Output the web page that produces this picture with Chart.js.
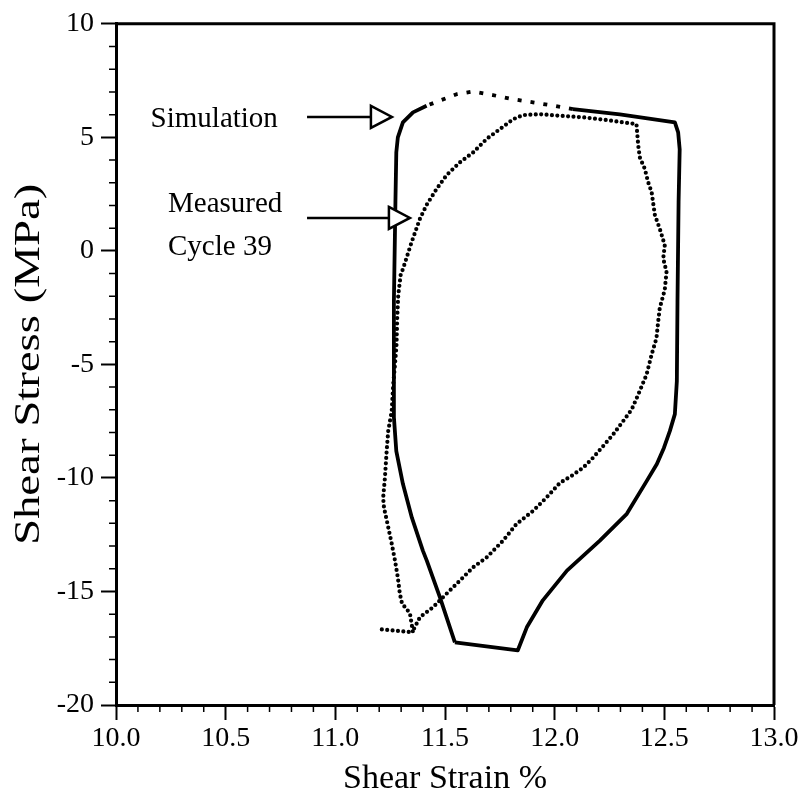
<!DOCTYPE html>
<html>
<head>
<meta charset="utf-8">
<script src="https://cdn.jsdelivr.net/npm/chart.js@4"></script>
<style>
  html, body { margin: 0; padding: 0; background: #fff; }
</style>
</head>
<body>
<canvas id="loopChart" width="806" height="801"></canvas>
<script>
// ===== Data =====
// Simulation loop, shear strain (%) / shear stress (MPa)
const simStrain = [11.545, 11.832, 11.873, 11.946, 12.056, 12.206, 12.329, 12.420, 12.466, 12.498,
                   12.525, 12.548, 12.557, 12.560, 12.565, 12.570, 12.563, 12.548, 12.297, 12.083,
                   11.992, 11.901, 11.809, 11.718, 11.627, 11.553, 11.477, 11.416, 11.354, 11.308,
                   11.285, 11.278, 11.274, 11.267, 11.267, 11.278, 11.308, 11.349, 11.399, 11.417,
                   11.477, 11.545];
const simStress = [-17.24, -17.59, -16.58, -15.39, -14.08, -12.76, -11.58, -10.13, -9.39, -8.68,
                   -7.94, -7.19, -5.75, -2.24, 2.15, 4.47, 5.22, 5.66, 6.01, 6.24,
                   6.40, 6.54, 6.68, 6.86, 7.02, 6.90, 6.62, 6.39, 6.10, 5.66,
                   5.00, 4.34, 2.15, -2.24, -7.32, -8.82, -10.26, -11.75, -13.20, -13.64,
                   -15.26, -17.24];

// Measured, cycle 39
const measStrain = [11.212, 11.354, 11.340, 11.304, 11.294, 11.285, 11.272, 11.257, 11.235, 11.222,
                    11.218, 11.226, 11.234, 11.241, 11.257, 11.264, 11.272, 11.279, 11.282, 11.287,
                    11.298, 11.309, 11.348, 11.386, 11.416, 11.462, 11.507, 11.568, 11.629, 11.690,
                    11.750, 11.811, 11.856, 11.932, 12.024, 12.130, 12.221, 12.312, 12.373, 12.381,
                    12.388, 12.411, 12.426, 12.442, 12.457, 12.479, 12.502, 12.495, 12.510, 12.502,
                    12.479, 12.472, 12.464, 12.442, 12.419, 12.381, 12.351, 12.312, 12.267, 12.221,
                    12.175, 12.130, 12.077, 12.024, 11.963, 11.902, 11.826, 11.765, 11.690, 11.629,
                    11.568, 11.507, 11.446, 11.386, 11.355];
const measStress = [-16.67, -16.80, -15.96, -15.53, -15.09, -14.39, -13.64, -12.89, -11.89, -11.32,
                    -10.88, -10.00, -8.82, -7.94, -7.06, -5.88, -5.00, -4.12, -2.98, -1.93,
                    -1.05, -0.78, 0.39, 1.42, 2.02, 2.73, 3.33, 3.90, 4.34, 4.93,
                    5.36, 5.80, 5.98, 6.02, 5.95, 5.88, 5.78, 5.66, 5.58, 4.64,
                    4.12, 3.61, 3.03, 2.59, 1.57, 0.98, 0.25, -0.34, -0.92, -1.71,
                    -2.53, -3.11, -3.85, -4.57, -5.45, -6.33, -6.99, -7.50, -8.08, -8.60,
                    -9.11, -9.55, -9.91, -10.22, -10.86, -11.45, -12.03, -12.76, -13.50, -13.93,
                    -14.52, -15.10, -15.69, -16.13, -16.71];

// ===== Axes =====
const xTicks = [10.0, 10.5, 11.0, 11.5, 12.0, 12.5, 13.0];
const yTicks = [-20, -15, -10, -5, 0, 5, 10];
const xMinorStep = 0.1;
const yMinorStep = 1;
const xTitle = "Shear Strain %";
const yTitle = "Shear Stress (MPa)";

// ===== Labels & arrows (data units) =====
const notes = [
    { text: "Simulation", x: 10.738, y: 5.44, align: "right" },
    { text: "Measured", x: 10.237, y: 1.71, align: "left" },
    { text: "Cycle 39", x: 10.237, y: -0.18, align: "left" },
];
const arrows = [
    { from: 10.871, to: 11.258, at: 5.90 },
    { from: 10.871, to: 11.340, at: 1.45 },
];

const SERIF = "'Liberation Serif', 'DejaVu Serif', serif";

// ===== Helper =====
function toPoints(xs, ys) {
    return xs.map((v, i) => ({ x: v, y: ys[i] }));
}

// top part of the simulation drawn as square dots
function isSparse(ctx) {
    const a = ctx.p0.parsed, b = ctx.p1.parsed;
    return a.y > 6.2 && b.y > 6.2 && a.x > 11.39 && b.x > 11.39 && a.x < 12.1 && b.x < 12.1;
}

// ------------------------ frame, minor ticks, notes ------------------------
const decorPlugin = {
    id: "decor",
    afterDraw(chart) {
        const { ctx, chartArea: a, scales: { x, y } } = chart;
        ctx.save();
        ctx.strokeStyle = "#000";

        // box top + right
        ctx.lineWidth = 3;
        ctx.beginPath();
        ctx.moveTo(a.left, a.top);
        ctx.lineTo(a.right, a.top);
        ctx.lineTo(a.right, a.bottom);
        ctx.stroke();

        // minor ticks
        ctx.lineWidth = 1.5;
        ctx.beginPath();
        const nx = Math.round((x.max - x.min) / xMinorStep);
        for (let i = 0; i <= nx; i++) {
            if (i % 5 === 0) continue;
            const px = x.getPixelForValue(x.min + i * xMinorStep);
            ctx.moveTo(px, a.bottom);
            ctx.lineTo(px, a.bottom + 7);
        }
        const ny = Math.round((y.max - y.min) / yMinorStep);
        for (let j = 0; j <= ny; j++) {
            if (j % 5 === 0) continue;
            const py = y.getPixelForValue(y.min + j * yMinorStep);
            ctx.moveTo(a.left, py);
            ctx.lineTo(a.left - 7, py);
        }
        ctx.stroke();

        // y title: the scan is stretched vertically, so widen the rotated text
        ctx.save();
        ctx.translate(30, (a.top + a.bottom) / 2);
        ctx.rotate(-Math.PI / 2);
        ctx.scale(1.3, 1);
        ctx.fillStyle = "#000";
        ctx.font = `36px ${SERIF}`;
        ctx.textAlign = "center";
        ctx.textBaseline = "middle";
        ctx.fillText(yTitle, 0, 0);
        ctx.restore();

        // text notes
        ctx.fillStyle = "#000";
        ctx.font = `29px ${SERIF}`;
        ctx.textBaseline = "alphabetic";
        notes.forEach(n => {
            ctx.textAlign = n.align;
            ctx.fillText(n.text, x.getPixelForValue(n.x), y.getPixelForValue(n.y));
        });

        // arrows with hollow heads
        ctx.lineWidth = 2.5;
        arrows.forEach(ar => {
            const x0 = x.getPixelForValue(ar.from);
            const x1 = x.getPixelForValue(ar.to);
            const py = y.getPixelForValue(ar.at);
            ctx.beginPath();
            ctx.moveTo(x0, py);
            ctx.lineTo(x1 - 21, py);
            ctx.stroke();
            ctx.beginPath();
            ctx.moveTo(x1 - 21, py - 11);
            ctx.lineTo(x1, py);
            ctx.lineTo(x1 - 21, py + 11);
            ctx.closePath();
            ctx.fillStyle = "#fff";
            ctx.fill();
            ctx.stroke();
        });
        ctx.restore();
    }
};

// ------------------------ Chart ------------------------
new Chart(document.getElementById("loopChart"), {
    type: "scatter",
    data: {
        datasets: [
            {
                label: "Measured Cycle 39",
                data: toPoints(measStrain, measStress),
                showLine: true,
                borderColor: "#000",
                borderWidth: 4.2,
                borderDash: [0, 5.4],
                borderCapStyle: "round",
                borderJoinStyle: "round",
                pointRadius: 0,
            },
            {
                label: "Simulation",
                data: toPoints(simStrain, simStress),
                showLine: true,
                borderColor: "#000",
                borderWidth: 3.8,
                borderCapStyle: "butt",
                borderJoinStyle: "round",
                pointRadius: 0,
                segment: {
                    borderDash: ctx => isSparse(ctx) ? [4, 9] : undefined,
                },
            },
        ],
    },
    options: {
        responsive: false,
        animation: false,
        devicePixelRatio: 1,
        layout: { padding: { top: 21, right: 32, left: 0, bottom: 0 } },
        plugins: { legend: { display: false }, tooltip: { enabled: false } },
        scales: {
            x: {
                type: "linear",
                min: 10,
                max: 13,
                afterBuildTicks: s => { s.ticks = xTicks.map(v => ({ value: v })); },
                afterFit: s => { s.height = 96; },
                ticks: {
                    callback: v => v.toFixed(1),
                    color: "#000",
                    font: { family: SERIF, size: 28 },
                    padding: 2,
                    maxRotation: 0,
                    autoSkip: false,
                },
                grid: { drawOnChartArea: false, tickLength: 15, tickWidth: 2, tickColor: "#000" },
                border: { color: "#000", width: 3 },
                title: {
                    display: true,
                    text: xTitle,
                    color: "#000",
                    font: { family: SERIF, size: 34 },
                    padding: { top: 0, bottom: 2 },
                },
            },
            y: {
                type: "linear",
                min: -20,
                max: 10,
                afterBuildTicks: s => { s.ticks = yTicks.map(v => ({ value: v })); },
                afterFit: s => { s.width = 116; },
                ticks: {
                    callback: v => String(v),
                    color: "#000",
                    font: { family: SERIF, size: 28 },
                    padding: 7,
                    autoSkip: false,
                },
                grid: { drawOnChartArea: false, tickLength: 15, tickWidth: 2, tickColor: "#000" },
                border: { color: "#000", width: 3 },
                title: { display: false },
            },
        },
    },
    plugins: [decorPlugin],
});
</script>
</body>
</html>
